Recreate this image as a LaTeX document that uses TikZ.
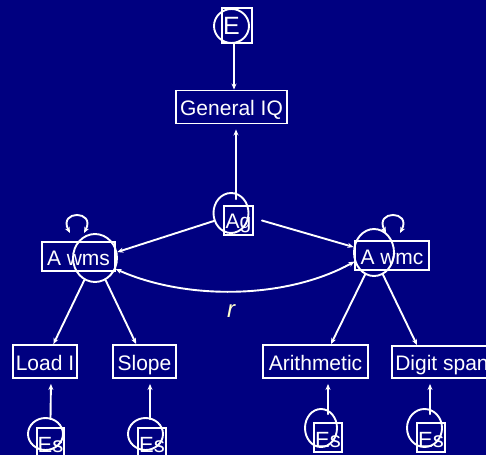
\documentclass[tikz,border=0pt]{standalone}
\usepackage{fontspec}
\setmainfont{Liberation Sans}
\usetikzlibrary{arrows.meta,shapes.geometric}

\begin{document}
\begin{tikzpicture}
		[x=1pt,y=-1pt,line cap=round,
		%Styles
		box/.style 2 args={draw=white,line width=1.9pt,rectangle,minimum width=#1,minimum height=#2,inner sep=0pt,text=white,font=\fontsize{21}{24}\selectfont,text height=17pt,text depth=0pt},
		blob/.style 2 args={draw=white,line width=1.9pt,ellipse,minimum width=#1,minimum height=#2,inner sep=0pt,text=white},
		error box/.style={font=\fontsize{22}{24}\selectfont,text height=19pt},
		path line/.style={draw=white,line width=1.9pt,-{Stealth[length=6pt,width=5pt]}},
		error line/.style={path line,shorten >=5pt},
		two way/.style={draw=white,line width=1.9pt,{Stealth[length=6pt,width=5pt]}-{Stealth[length=6pt,width=5pt]}}
		]
		
		%Colors
		\definecolor{slide}{RGB}{0,0,128}	%background
		\definecolor{rtext}{RGB}{255,255,204}	%correlation label
		
		%The frame
		\useasboundingbox (0,0) rectangle (486,455);
		\fill[slide] (0,0) rectangle (486,455);
		\clip (0,0) rectangle (486,455);
		
		%Top: error and general IQ
		\node[blob={35}{34},font=\fontsize{25}{28}\selectfont] (ec) at (231.5,26) {E};
		\node[box={30}{35}] (esq) at (237,25.5) {};
		\node[box={111}{33}] (gen) at (231.5,107) {General IQ};
		
		%Middle: latent factors
		\node[blob={35}{40}] (agc) at (231,213) {};
		\node[box={29}{29},text height=15pt] (agsq) at (238.5,220.5) {Ag};
		\node[box={73}{29}] (awms) at (78.5,256.5) {A wms};
		\node[blob={44}{48}] (awmsc) at (95,258) {};
		\node[box={74}{29}] (awmc) at (392,255.5) {A wmc};
		\node[blob={40}{47}] (awmcc) at (374,252.5) {};
		\node[text=rtext,font=\fontsize{24}{26}\selectfont\itshape] (r) at (231,311.5) {r};
		
		%Bottom: tasks
		\node[box={64}{33}] (load) at (45,361.5) {Load I};
		\node[box={63}{33}] (slope) at (144.5,361.5) {Slope};
		\node[box={105}{33}] (arith) at (315.5,361.5) {Arithmetic};
		\node[box={100}{32}] (digit) at (442,362) {Digit span};
		
		%Task errors
		\node[blob={35}{32}] (es1c) at (45.5,434) {};
		\node[box={27}{29},error box] (es1) at (50.5,442.5) {Es};
		\node[blob={35}{32}] (es2c) at (145.5,434) {};
		\node[box={28}{29},error box] (es2) at (152,442.5) {Es};
		\node[blob={32}{38}] (es3c) at (321,428) {};
		\node[box={28}{29},error box] (es3) at (328,437.5) {Es};
		\node[blob={35}{38}] (es4c) at (424.5,428) {};
		\node[box={28}{29},error box] (es4) at (431,437.5) {Es};
		
		%Paths
		\draw[path line] ([xshift=2.5pt]ec.south) -- ([xshift=2.5pt]gen.north);
		\draw[error line] ([xshift=5pt,yshift=-7pt]agc.north) -- ([xshift=4.5pt]gen.south);
		\draw[path line] (agc.205) -- (awmsc.15);
		\draw[path line] ([xshift=8pt]agsq.east) -- (awmcc.165);
		\draw[two way] (awmsc.-28) .. controls (185,300) and (285,300) .. (awmcc.205);
		\draw[path line] (awmsc) -- (load);
		\draw[path line] (awmsc) -- (slope);
		\draw[path line] (awmcc.248) -- ([xshift=15.5pt]arith.north);
		\draw[path line] (awmcc.292) -- ([xshift=-25pt]digit.north);
		
		%Variances
		\coordinate (wmsloop) at (77,233);
		\coordinate (wmcloop) at (393,233);
		\draw[two way] ([xshift=-7pt]wmsloop) .. controls +(-12,-23) and +(12,-23) .. ([xshift=7pt]wmsloop);
		\draw[two way] ([xshift=-7pt]wmcloop) .. controls +(-12,-23) and +(12,-23) .. ([xshift=7pt]wmcloop);
		
		%Errors to tasks
		\draw[error line] ([xshift=5pt,yshift=-2pt]es1c.north) -- ([xshift=6pt]load.south);
		\draw[error line] ([xshift=4.5pt,yshift=-2pt]es2c.north) -- ([xshift=5.5pt]slope.south);
		\draw[error line] ([xshift=7pt,yshift=-6pt]es3c.north) -- ([xshift=12.5pt]arith.south);
		\draw[error line] ([xshift=5.5pt,yshift=-6pt]es4c.north) -- ([xshift=-12pt]digit.south);
	\end{tikzpicture}
\end{document}
